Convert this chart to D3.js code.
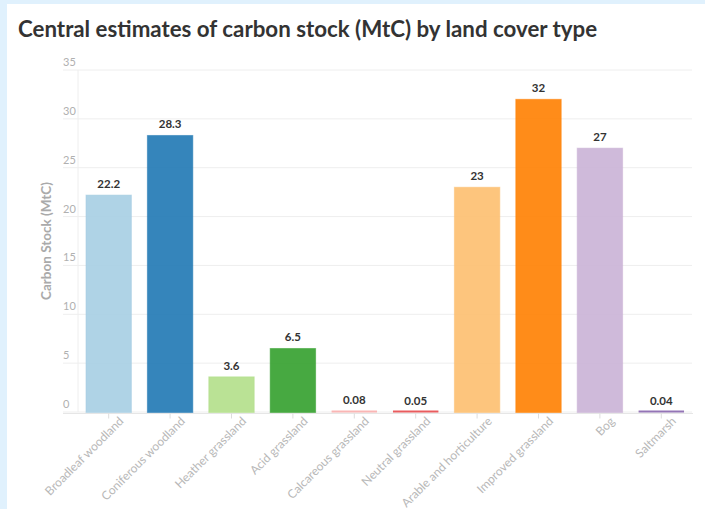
<!DOCTYPE html>
<html>
<head>
<meta charset="utf-8">
<script src="https://cdnjs.cloudflare.com/ajax/libs/d3/7.8.5/d3.min.js"></script>
<style>
  body { margin: 0; background: #e0f1fd; }
  #chart { position: absolute; left: 7px; top: 4px; width: 698px; height: 505px; background: #fff; }
  svg { font-family: "Source Sans Pro", Lato, "Open Sans", sans-serif; }
</style>
</head>
<body>
<div id="chart"></div>
<script>
const categories = ["Broadleaf woodland", "Coniferous woodland", "Heather grassland", "Acid grassland",
  "Calcareous grassland", "Neutral grassland", "Arable and horticulture", "Improved grassland", "Bog", "Saltmarsh"];
const values = [22.2, 28.3, 3.6, 6.5, 0.08, 0.05, 23, 32, 27, 0.04];
const valueLabels = ["22.2", "28.3", "3.6", "6.5", "0.08", "0.05", "23", "32", "27", "0.04"];
const yTicks = [0, 5, 10, 15, 20, 25, 30, 35];
const colors = ["#a6cee3", "#1f78b4", "#b2df8a", "#33a02c", "#fb9a99", "#e31a1c", "#fdbf6f", "#ff7f00", "#cab2d6", "#6a3d9a"];

const W = 698, H = 505;
const svg = d3.select("#chart").append("svg")
    .attr("width", W)
    .attr("height", H);

// work in page coordinates (panel starts at 7,4)
const g = svg.append("g").attr("transform", "translate(-7,-4)");

const x = d3.scaleBand()
    .domain(categories)
    .range([78, 692])
    .paddingInner(0.26)
    .paddingOuter(0.13);

const y = d3.scaleLinear()
    .domain([0, 35])
    .range([412, 70]);

// title
g.append("text")
    .attr("x", 18)
    .attr("y", 37)
    .attr("font-size", 22.3)
    .attr("font-weight", "bold")
    .attr("fill", "#333")
    .text("Central estimates of carbon stock (MtC) by land cover type");

// grid lines + y labels
const grid = g.append("g");
grid.selectAll("line")
    .data(yTicks)
    .join("line")
    .attr("x1", 63)
    .attr("x2", 692)
    .attr("y1", d => y(d))
    .attr("y2", d => y(d))
    .attr("stroke", "#eeeeee")
    .attr("stroke-width", 1);

grid.selectAll("text")
    .data(yTicks)
    .join("text")
    .attr("x", 63)
    .attr("y", d => y(d) - 4)
    .attr("font-size", 11)
    .attr("fill", "#b0b0b0")
    .text(d => d);

// vertical axis line
g.append("line")
    .attr("x1", 78).attr("x2", 78)
    .attr("y1", y(35)).attr("y2", y(0))
    .attr("stroke", "#eeeeee");

// x axis
const xAxis = g.append("g")
    .attr("transform", `translate(0,${y(0) + 1.5})`)
    .call(d3.axisBottom(x).tickSize(5).tickSizeOuter(0));

xAxis.select(".domain")
    .attr("d", "M63,0H693")
    .attr("stroke", "#e6e6e6");
xAxis.selectAll(".tick line").attr("stroke", "#dddddd");
xAxis.selectAll("text")
    .attr("font-size", 12)
    .attr("fill", "#b8b8b8")
    .attr("font-family", "Source Sans Pro, Lato, sans-serif")
    .attr("text-anchor", "end")
    .attr("dx", "5")
    .attr("dy", "9")
    .attr("transform", "rotate(-45)");

// bars
g.append("g")
    .selectAll("rect")
    .data(values)
    .join("rect")
    .attr("x", (d, i) => x(categories[i]))
    .attr("y", d => Math.min(y(d), y(0) - 1.5))
    .attr("width", x.bandwidth())
    .attr("height", d => Math.max(y(0) - y(d), 1.5) + 0.5)
    .attr("fill", (d, i) => colors[i])
    .attr("fill-opacity", d => d < 1 ? 0.7 : 0.9)
    .attr("stroke", (d, i) => colors[i])
    .attr("stroke-opacity", d => d < 1 ? 0 : 0.5);

// value labels
g.append("g")
    .selectAll("text")
    .data(values)
    .join("text")
    .attr("x", (d, i) => x(categories[i]) + x.bandwidth() / 2)
    .attr("y", d => y(d) - 7)
    .attr("text-anchor", "middle")
    .attr("font-size", 11.5)
    .attr("font-weight", "bold")
    .attr("fill", "#333")
    .text((d, i) => valueLabels[i]);

// y axis title
g.append("text")
    .attr("transform", `translate(51,${(y(0) + y(35)) / 2}) rotate(-90)`)
    .attr("text-anchor", "middle")
    .attr("font-size", 13.5)
    .attr("font-weight", "bold")
    .attr("fill", "#aaaaaa")
    .text("Carbon Stock (MtC)");
</script>
</body>
</html>
